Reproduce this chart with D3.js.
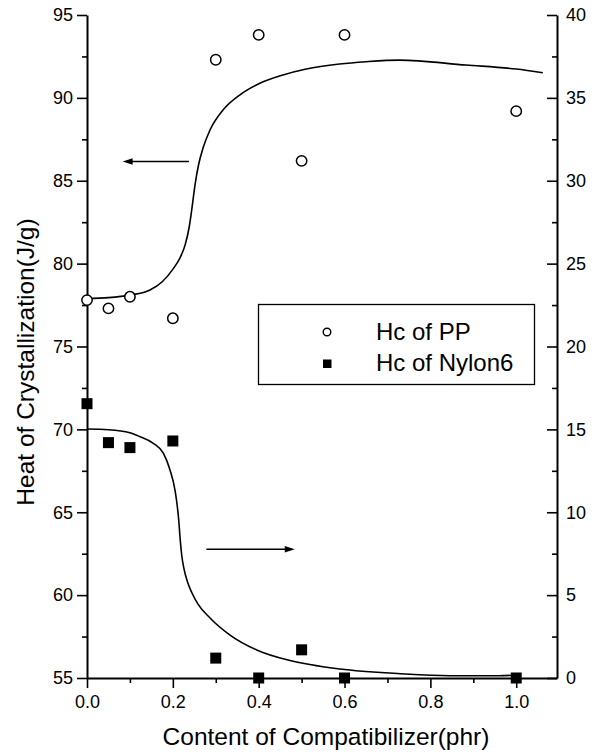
<!DOCTYPE html>
<html>
<head>
<meta charset="utf-8">
<script src="https://cdn.jsdelivr.net/npm/d3@7"></script>
<style>
  html, body { margin: 0; padding: 0; background: #fff; }
  svg { display: block; }
  text { font-family: "Liberation Sans", Arial, sans-serif; fill: #000; }
</style>
</head>
<body>
<svg id="chart" width="598" height="755"></svg>
<script>
// Compatibilizer content (phr) of the measured blends
const contentPhr = [0, 0.05, 0.1, 0.2, 0.3, 0.4, 0.5, 0.6, 1.0];
// Heat of crystallization of the PP phase (J/g, left axis)
const hcPP = [77.8, 77.3, 78.0, 76.7, 92.3, 93.8, 86.2, 93.8, 89.2];
// Heat of crystallization of the Nylon6 phase (J/g, right axis)
const hcNylon6 = [16.55, 14.2, 13.9, 14.3, 1.2, 0, 1.7, 0, 0];

// Fitted trend for PP
const ppFitX = [0, 0.05, 0.1, 0.1468, 0.1747, 0.2011, 0.2167, 0.2283, 0.2377, 0.2446, 0.2516, 0.2598, 0.2703, 0.2866, 0.3169, 0.3556, 0.3945, 0.4565, 0.5109, 0.5885, 0.65, 0.728, 0.883, 1.0, 1.062];
const ppFitY = [77.9, 77.95, 78.1, 78.41, 78.89, 79.7, 80.35, 81.1, 82.15, 83.36, 84.74, 85.95, 86.97, 88.06, 89.27, 90.17, 90.78, 91.38, 91.74, 92.04, 92.18, 92.28, 91.98, 91.74, 91.52];
// Fitted trend for Nylon6
const nyFitX = [0, 0.05, 0.1, 0.1235, 0.1545, 0.1778, 0.1934, 0.205, 0.2085, 0.2137, 0.2172, 0.2209, 0.226, 0.2342, 0.2446, 0.2586, 0.2866, 0.3332, 0.3954, 0.473, 0.5895, 0.73, 0.845, 0.96, 1.01];
const nyFitY = [15.02, 14.98, 14.8, 14.56, 14.16, 13.56, 12.55, 11.34, 10.74, 9.53, 8.33, 7.36, 6.58, 5.79, 5.13, 4.46, 3.62, 2.59, 1.69, 1.05, 0.54, 0.26, 0.14, 0.14, 0.2];

// Axis ticks
const xMajor = [0, 0.2, 0.4, 0.6, 0.8, 1.0];
const xMinor = [0.1, 0.3, 0.5, 0.7, 0.9];
const leftMajor = [55, 60, 65, 70, 75, 80, 85, 90, 95];
const leftMinor = [57.5, 62.5, 67.5, 72.5, 77.5, 82.5, 87.5, 92.5];
const rightMajor = [0, 5, 10, 15, 20, 25, 30, 35, 40];
const rightMinor = [2.5, 7.5, 12.5, 17.5, 22.5, 27.5, 32.5, 37.5];

const seriesNames = ["Hc of PP", "Hc of Nylon6"];
const xTitle = "Content of Compatibilizer(phr)";
const yTitle = "Heat of Crystallization(J/g)";

// Annotation arrows: [x from, x to, value on its axis]
const arrowPP = [0.2375, 0.083, 86.16];
const arrowNylon = [0.278, 0.484, 7.77];

const svg = d3.select("#chart");
const W = 598, H = 755;
const m = { left: 87, right: 41, top: 15, bottom: 77 };

const x = d3.scaleLinear().domain([0, 1.095]).range([m.left, W - m.right]);
const yL = d3.scaleLinear().domain([55, 95]).range([H - m.bottom, m.top]);
const yR = d3.scaleLinear().domain([0, 40]).range([H - m.bottom, m.top]);

const axisStroke = 2;

function styleAxis(g) {
  g.selectAll("path.domain").attr("stroke", "#000").attr("stroke-width", axisStroke);
  g.selectAll(".tick line").attr("stroke", "#000").attr("stroke-width", 1.6);
  g.selectAll(".tick text").style("font-size", "18px").attr("fill", "#000");
}

// Bottom axis
const gx = svg.append("g").attr("transform", `translate(0,${H - m.bottom})`);
gx.call(d3.axisBottom(x).tickValues(xMajor).tickFormat(d3.format(".1f"))
  .tickSize(10).tickSizeOuter(0).tickPadding(7)).call(styleAxis);
svg.append("g").attr("transform", `translate(0,${H - m.bottom})`)
  .call(d3.axisBottom(x).tickValues(xMinor).tickFormat("").tickSize(5).tickSizeOuter(0))
  .call(g => g.select("path.domain").remove()).call(styleAxis);

// Left axis
const gl = svg.append("g").attr("transform", `translate(${m.left},0)`);
gl.call(d3.axisLeft(yL).tickValues(leftMajor).tickFormat(d3.format("d"))
  .tickSize(10).tickSizeOuter(0).tickPadding(4)).call(styleAxis);
svg.append("g").attr("transform", `translate(${m.left},0)`)
  .call(d3.axisLeft(yL).tickValues(leftMinor).tickFormat("").tickSize(5).tickSizeOuter(0))
  .call(g => g.select("path.domain").remove()).call(styleAxis);

// Right axis (ticks point into the plot)
const gr = svg.append("g").attr("transform", `translate(${W - m.right},0)`);
gr.call(d3.axisRight(yR).tickValues(rightMajor).tickFormat(d3.format("d"))
  .tickSize(-10).tickSizeOuter(0).tickPadding(9)).call(styleAxis);
svg.append("g").attr("transform", `translate(${W - m.right},0)`)
  .call(d3.axisRight(yR).tickValues(rightMinor).tickFormat("").tickSize(-5).tickSizeOuter(0))
  .call(g => g.select("path.domain").remove()).call(styleAxis);

// Axis titles
svg.append("text")
  .attr("x", 326).attr("y", 745)
  .attr("text-anchor", "middle")
  .style("font-size", "24.5px")
  .text(xTitle);
svg.append("text")
  .attr("transform", "translate(33.5,362) rotate(-90)")
  .attr("text-anchor", "middle")
  .style("font-size", "24.5px")
  .text(yTitle);

// Fitted curves
const ppLine = d3.line().x(d => x(d[0])).y(d => yL(d[1])).curve(d3.curveMonotoneX);
const nyLine = d3.line().x(d => x(d[0])).y(d => yR(d[1])).curve(d3.curveMonotoneX);
svg.append("path")
  .datum(ppFitX.map((v, i) => [v, ppFitY[i]]))
  .attr("d", ppLine).attr("fill", "none").attr("stroke", "#000").attr("stroke-width", 1.6);
svg.append("path")
  .datum(nyFitX.map((v, i) => [v, nyFitY[i]]))
  .attr("d", nyLine).attr("fill", "none").attr("stroke", "#000").attr("stroke-width", 1.6);

// Arrows
function arrow(spec, yScale) {
  const [x0, x1, v] = spec;
  const px0 = x(x0), px1 = x(x1), py = yScale(v);
  const dir = Math.sign(px1 - px0);
  const head = 10, half = 3.2;
  svg.append("line")
    .attr("x1", px0).attr("x2", px1 - dir * head * 0.8)
    .attr("y1", py).attr("y2", py)
    .attr("stroke", "#000").attr("stroke-width", 1.6);
  svg.append("path")
    .attr("d", `M${px1},${py} L${px1 - dir * head},${py - half} L${px1 - dir * head},${py + half} Z`)
    .attr("fill", "#000");
}
arrow(arrowPP, yL);
arrow(arrowNylon, yR);

// Data markers
svg.append("g").selectAll("rect")
  .data(contentPhr.map((v, i) => [v, hcNylon6[i]]))
  .join("rect")
  .attr("x", d => x(d[0]) - 5.5).attr("y", d => yR(d[1]) - 5.5)
  .attr("width", 11).attr("height", 11)
  .attr("fill", "#000");
svg.append("g").selectAll("circle")
  .data(contentPhr.map((v, i) => [v, hcPP[i]]))
  .join("circle")
  .attr("cx", d => x(d[0])).attr("cy", d => yL(d[1]))
  .attr("r", 5.2)
  .attr("fill", "#fff").attr("stroke", "#000").attr("stroke-width", 1.5);

// Legend
const lg = svg.append("g");
lg.append("rect")
  .attr("x", 258.5).attr("y", 304.5).attr("width", 276).attr("height", 80)
  .attr("fill", "#fff").attr("stroke", "#000").attr("stroke-width", 1.3);
lg.append("circle")
  .attr("cx", 327).attr("cy", 332).attr("r", 3.8)
  .attr("fill", "#fff").attr("stroke", "#000").attr("stroke-width", 1.4);
lg.append("rect")
  .attr("x", 323).attr("y", 359.5).attr("width", 8.5).attr("height", 8.5)
  .attr("fill", "#000");
lg.selectAll("text")
  .data(seriesNames)
  .join("text")
  .attr("x", 376)
  .attr("y", (d, i) => 340 + i * 31)
  .style("font-size", "24px")
  .text(d => d);
</script>
</body>
</html>
